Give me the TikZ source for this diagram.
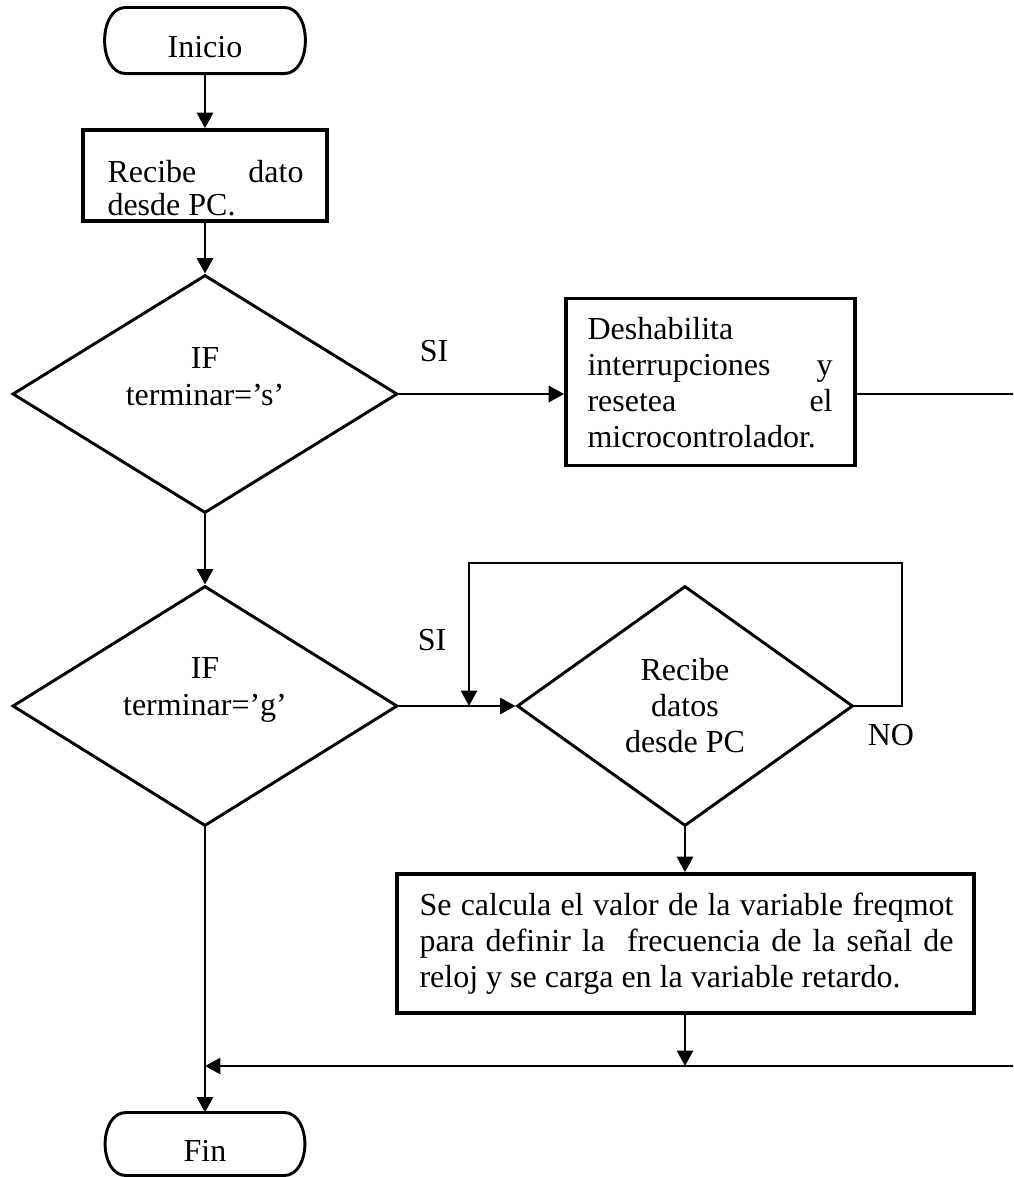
\documentclass[tikz,border=0pt]{standalone}
\usepackage{fontspec}
\setmainfont{Liberation Serif}
\usetikzlibrary{shapes.geometric,arrows.meta}

% justified line of a given width
\newcommand\jline[1]{\makebox[\linewidth][s]{#1}\par}

\begin{document}
\begin{tikzpicture}[
  x=0.375pt, y=-0.375pt,
  wire/.style={line width=1.1pt},
  arr/.style={line width=1.1pt, -{Triangle[length=5.8pt,width=6pt]}},
  procbox/.style={draw, rectangle, line width=1.35pt, inner sep=0pt},
  decision/.style={draw, diamond, line width=1.1pt, inner sep=0pt},
  termshape/.style={rectangle, inner sep=0pt},
  txt/.style={inner sep=0pt, font=\fontsize{12}{13.5}\selectfont},
]
\useasboundingbox (0,0) rectangle (1013,1177);
\clip (0,0) rectangle (1013,1177);

% ---- shapes ----
\node[termshape, minimum width={195*0.375pt}, minimum height={65*0.375pt}] (ini) at (205,40.5) {};
\node[procbox, minimum width={244*0.375pt}, minimum height={91*0.375pt}] (b1) at (205,175.5) {};
\node[decision, minimum width={385*0.375pt}, minimum height={238*0.375pt}] (d1) at (205,394) {};
\node[procbox, minimum width={289*0.375pt}, minimum height={167*0.375pt}] (b2) at (710.5,382) {};
\node[decision, minimum width={385*0.375pt}, minimum height={240*0.375pt}] (d2) at (205,706) {};
\node[decision, minimum width={336*0.375pt}, minimum height={240*0.375pt}] (d3) at (685,706) {};
\node[procbox, minimum width={577*0.375pt}, minimum height={139*0.375pt}] (b4) at (685.5,943.5) {};
\node[termshape, minimum width={194*0.375pt}, minimum height={62*0.375pt}] (fin) at (205,1144) {};

% terminal outlines: flat top and bottom, bulging ends
\foreach \t in {ini,fin}{
  \draw[wire] ([xshift=7pt]\t.north west) -- ([xshift=-7pt]\t.north east)
    .. controls ([xshift=3.5pt]\t.north east) and ([xshift=3.5pt]\t.south east) .. ([xshift=-7pt]\t.south east)
    -- ([xshift=7pt]\t.south west)
    .. controls ([xshift=-3.5pt]\t.south west) and ([xshift=-3.5pt]\t.north west) .. cycle;
}

% ---- texts ----
\node[txt, anchor=base] (tini) at (205,57) {Inicio};
\node[txt, anchor=base west, font=\fontsize{12}{12.4}\selectfont] (tb1) at (107,182)
  {\parbox[t]{73.5pt}{\jline{Recibe dato}desde PC.}};
\node[txt, anchor=base, font=\fontsize{12}{13.9}\selectfont] (td1) at (205,368)
  {\parbox[t]{4cm}{\centering IF\par terminar=’s’}};
\node[txt, anchor=base west] (tb2) at (587,339)
  {\parbox[t]{91.9pt}{Deshabilita\par\jline{interrupciones y}\jline{resetea el}microcontrolador.}};
\node[txt, anchor=base, font=\fontsize{12}{13.9}\selectfont] (td2) at (205,678)
  {\parbox[t]{4cm}{\centering IF\par terminar=’g’}};
\node[txt, anchor=base, font=\fontsize{12}{13.6}\selectfont] (td3) at (685,680)
  {\parbox[t]{4cm}{\centering Recibe\par datos\par desde PC}};
\node[txt, anchor=base west] (tb4) at (419,915)
  {\parbox[t]{200.25pt}{\jline{Se calcula el valor de la variable freqmot}\jline{para definir la\ \ frecuencia de la señal de}reloj y se carga en la variable retardo.}};
\node[txt, anchor=base] (tfin) at (205,1161) {Fin};

\node[txt, anchor=base] (si1) at (434,361) {SI};
\node[txt, anchor=base] (si2) at (432,650) {SI};
\node[txt, anchor=base] (no3) at (891,745) {NO};

% ---- helper points ----
\coordinate (merge) at (205,1066);
\coordinate (edgeA) at (1030,394);
\coordinate (edgeB) at (1030,1066);
\coordinate (loopR) at (902,563);
\coordinate (loopL) at (469,563);

% ---- connectors ----
\draw[arr] (ini.south) -- (b1.north);
\draw[arr] (b1.south) -- (d1.north);
\draw[arr] (d1.east) -- (d1.east -| b2.west);
\draw[arr] (d1.south) -- (d2.north);
\draw[arr] (d2.east) -- (d3.west);
\draw[arr] (d3.east) -| (loopR) -- (loopL) -- (loopL |- d3.west);
\draw[arr] (d3.south) -- (d3.south |- b4.north);
\draw[arr] (d3.south |- b4.south) -- (d3.south |- merge);
\draw[arr] (b2.east |- d1.east) -- (edgeA) -- (edgeB) -- (merge);
\draw[arr] (d2.south) -- (fin.north);
\end{tikzpicture}
\end{document}
